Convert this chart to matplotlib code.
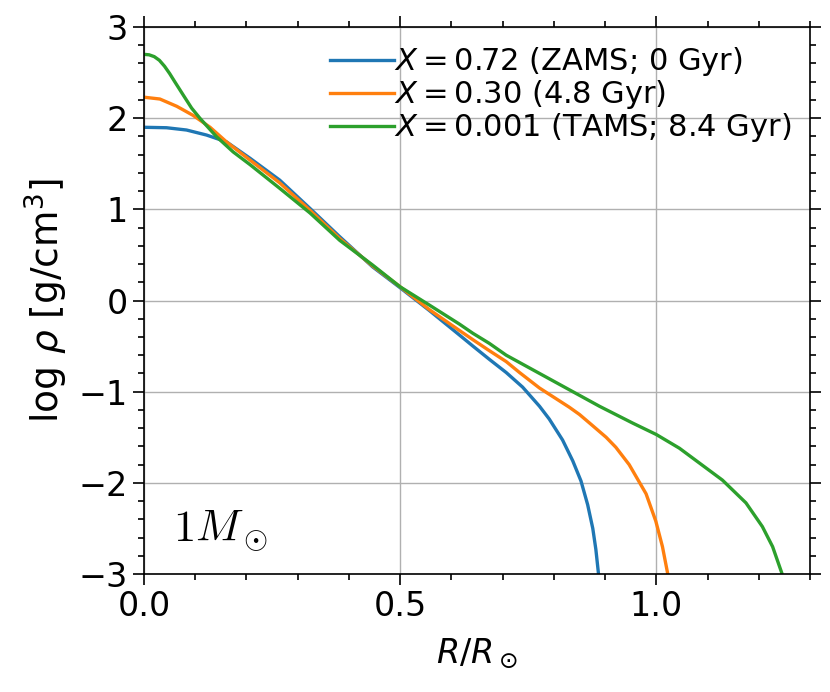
import numpy as np
import matplotlib
matplotlib.use("Agg")
import matplotlib.pyplot as plt
from matplotlib.ticker import MultipleLocator

# perfiles de densidad: R/Rsun y log rho
r_zams = [0.0, 0.044, 0.083, 0.122, 0.161, 0.207, 0.265, 0.324, 0.382, 0.446,
          0.5, 0.557, 0.616, 0.642, 0.674, 0.707, 0.739, 0.772, 0.791, 0.817,
          0.837, 0.853, 0.866, 0.876, 0.882, 0.887, 0.889]
rho_zams = [1.90, 1.895, 1.87, 1.815, 1.74, 1.56, 1.32, 1.01, 0.70, 0.37,
            0.14, -0.11, -0.38, -0.50, -0.645, -0.79, -0.95, -1.16, -1.30, -1.53,
            -1.76, -1.98, -2.24, -2.50, -2.73, -2.99, -3.3]

r_mid = [0.0, 0.031, 0.064, 0.096, 0.129, 0.161, 0.207, 0.265, 0.324, 0.382,
         0.446, 0.5, 0.557, 0.616, 0.642, 0.674, 0.707, 0.733, 0.772, 0.83,
         0.85, 0.873, 0.902, 0.921, 0.947, 0.980, 0.999, 1.012, 1.022, 1.025]
rho_mid = [2.23, 2.21, 2.13, 2.03, 1.90, 1.74, 1.54, 1.29, 0.99, 0.68,
           0.38, 0.15, -0.10, -0.33, -0.43, -0.55, -0.67, -0.79, -0.96, -1.17,
           -1.25, -1.36, -1.50, -1.61, -1.80, -2.12, -2.42, -2.70, -2.99, -3.3]

r_tams = [0.0, 0.01, 0.02, 0.03, 0.04, 0.05, 0.06, 0.077, 0.093, 0.109,
          0.141, 0.174, 0.207, 0.265, 0.324, 0.382, 0.446, 0.5, 0.557, 0.616,
          0.642, 0.674, 0.707, 0.772, 0.837, 0.889, 0.954, 1.0, 1.045, 1.129,
          1.175, 1.207, 1.227, 1.245, 1.25]
rho_tams = [2.70, 2.695, 2.675, 2.635, 2.57, 2.49, 2.40, 2.25, 2.11, 2.00,
            1.80, 1.63, 1.49, 1.23, 0.96, 0.66, 0.39, 0.15, -0.05, -0.26,
            -0.36, -0.47, -0.60, -0.80, -1.00, -1.16, -1.345, -1.47, -1.62, -1.97,
            -2.22, -2.48, -2.70, -2.99, -3.3]

etiquetas = [r"$X=0.72$ (ZAMS; 0 Gyr)",
             r"$X=0.30$ (4.8 Gyr)",
             r"$X=0.001$ (TAMS; 8.4 Gyr)"]
colores = ["#1f77b4", "#ff7f0e", "#2ca02c"]

fig = plt.figure(figsize=(8.3, 6.92), dpi=100)
ax = fig.add_axes([144/830, 1 - 574/692, 666/830, 547/692])

for r, rho, lab, c in zip([r_zams, r_mid, r_tams],
                          [rho_zams, rho_mid, rho_tams], etiquetas, colores):
    ax.plot(r, rho, color=c, lw=2.4, label=lab)

ax.set_xlim(0, 1.3)
ax.set_ylim(-3, 3)
ax.xaxis.set_major_locator(MultipleLocator(0.5))
ax.xaxis.set_minor_locator(MultipleLocator(0.1))
ax.yaxis.set_major_locator(MultipleLocator(1))
ax.yaxis.set_minor_locator(MultipleLocator(0.2))
ax.tick_params(which="both", direction="out", top=True, right=True,
               width=1.2, labelsize=24)
ax.tick_params(which="major", length=8)
ax.tick_params(which="minor", length=4)
for s in ax.spines.values():
    s.set_linewidth(1.2)
ax.grid(True, which="major", color="#b0b0b0", lw=1.0)

ax.set_xlabel(r"$R/R_\odot$", fontsize=24, labelpad=10)
ax.set_ylabel(r"log $\rho$ [g/cm$^3$]", fontsize=27, labelpad=6)

ax.text(0.044, 0.059, r"$1M_\odot$", transform=ax.transAxes,
        fontsize=32, math_fontfamily="cm")

ax.legend(loc="upper right", frameon=False, fontsize=22, handlelength=2.1,
          handletextpad=0.0, labelspacing=0.0, borderaxespad=0.3,
          borderpad=0.3)

fig.savefig("out.png", dpi=100)
